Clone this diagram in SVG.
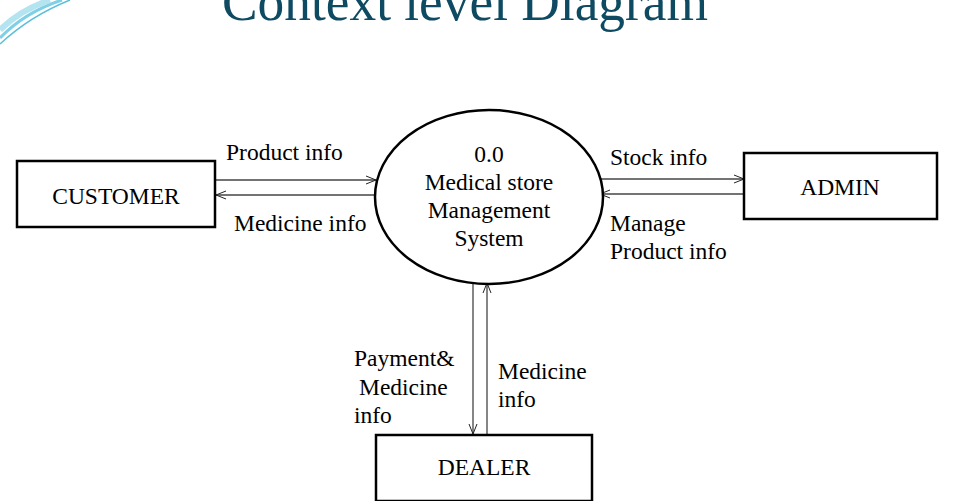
<svg xmlns="http://www.w3.org/2000/svg" width="954" height="501" viewBox="0 0 954 501">
<defs>
<marker id="ah" markerWidth="12" markerHeight="10" refX="11" refY="5" orient="auto" markerUnits="userSpaceOnUse">
<path d="M1,1 L11,5 L1,9" fill="none" stroke="#222" stroke-width="1"/>
</marker>
</defs>
<style>
text{font-family:"Liberation Serif",serif;fill:#000;font-size:23.5px}
.box{fill:#fff;stroke:#000;stroke-width:2.5}
.c line{stroke:#444;stroke-width:1.3;marker-end:url(#ah)}
.t{text-anchor:middle}
</style>
<rect width="954" height="501" fill="#fff"/>
<g id="swoosh" fill="none">
<path d="M0,38 Q25,12 62,0" stroke="#7fd0e6" stroke-width="3"/>
<path d="M0,30 Q20,10 50,0" stroke="#b4e4f0" stroke-width="6"/>
<path d="M0,44 Q30,16 70,0" stroke="#5bbfd9" stroke-width="1.5"/>
</g>
<text x="465" y="20" class="t" style="font-size:54px;fill:#0e4a62" textLength="486" lengthAdjust="spacingAndGlyphs">Context level Diagram</text>
<g class="c" id="connectors">
<line x1="216" y1="180" x2="376" y2="180"/>
<line x1="375" y1="195" x2="216" y2="195"/>
<line x1="601" y1="179" x2="744" y2="179"/>
<line x1="743" y1="194" x2="600" y2="194"/>
<line x1="473" y1="284" x2="473" y2="434"/>
<line x1="487" y1="435" x2="487" y2="283"/>
</g>
<g id="labels">
<text x="226" y="160">Product  info</text>
<text x="234" y="231">Medicine info</text>
<text x="610" y="165">Stock info</text>
<text x="610" y="231">Manage</text>
<text x="610" y="259">Product info</text>
<text x="354" y="366">Payment&amp;</text>
<text x="359" y="395">Medicine</text>
<text x="354" y="423">info</text>
<text x="498" y="379">Medicine</text>
<text x="498" y="407">info</text>
</g>
<g id="system">
<ellipse cx="489" cy="197" rx="114" ry="87" fill="#fff" stroke="#000" stroke-width="2.5"/>
<text x="489" y="162" class="t">0.0</text>
<text x="489" y="190" class="t">Medical store</text>
<text x="489" y="218" class="t">Management</text>
<text x="489" y="246" class="t">System</text>
</g>
<g id="customer"><rect class="box" x="17" y="161" width="198" height="66"/><text x="116" y="204" class="t">CUSTOMER</text></g>
<g id="admin"><rect class="box" x="744" y="153" width="193" height="66"/><text x="840" y="195" class="t">ADMIN</text></g>
<g id="dealer"><rect class="box" x="376" y="435" width="216" height="66"/><text x="484" y="475" class="t">DEALER</text></g>
</svg>
